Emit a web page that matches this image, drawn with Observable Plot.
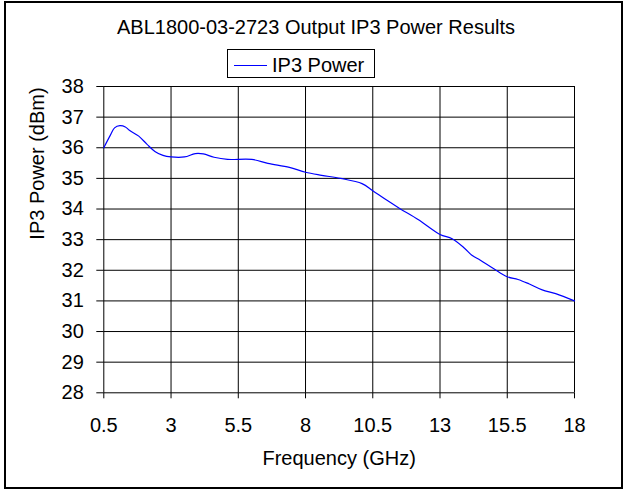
<!DOCTYPE html>
<html>
<head>
<meta charset="utf-8">
<script src="https://cdn.jsdelivr.net/npm/d3@7"></script>
<script src="https://cdn.jsdelivr.net/npm/@observablehq/plot@0.6"></script>
<style>
  body { margin: 0; background: #fff; }
  #wrap { position: relative; width: 624px; height: 489px; font-family: Arial, "Liberation Sans", sans-serif; color: #000; overflow: hidden; }
  #wrap svg { position: absolute; left: 0; top: 0; }
  #frame { position: absolute; left: 4px; top: 1px; width: 615px; height: 484px; border: 2px solid #000; pointer-events: none; }
  #title { position: absolute; left: 0; top: 17px; width: 632px; text-align: center; font-size: 20px; line-height: 20px; white-space: nowrap; }
  #legend { position: absolute; left: 227px; top: 49px; width: 148px; height: 29px; box-sizing: border-box; border: 1px solid #000; background: #fff; }
  #legend .swatch { position: absolute; left: 6px; top: 15px; width: 33px; height: 1px; background: #0000ff; }
  #legend .lab { position: absolute; left: 44px; top: 5px; font-size: 20px; line-height: 20px; white-space: nowrap; }
</style>
</head>
<body>
<div id="wrap"></div>
<script>
// ---- data ----
const titleText = "ABL1800-03-2723 Output IP3 Power Results";
const seriesName = "IP3 Power";
const xLabel = "Frequency (GHz)";
const yLabel = "IP3 Power (dBm)";

const freq = [0.5, 0.75, 0.9, 1.1, 1.3, 1.45, 1.8, 2.1, 2.4, 2.7, 3.0, 3.5, 3.9, 4.2, 4.6, 5.1, 6.0, 6.6, 7.4, 8.0, 8.6, 9.3, 10.1, 10.5, 11.0, 11.5, 12.2, 13.0, 13.45, 13.9, 14.2, 14.5, 15.0, 15.5, 15.9, 16.3, 16.8, 17.3, 18.0];
const ip3  = [36.0, 36.42, 36.65, 36.72, 36.68, 36.57, 36.38, 36.12, 35.88, 35.75, 35.70, 35.70, 35.81, 35.80, 35.69, 35.62, 35.62, 35.49, 35.36, 35.20, 35.10, 35.00, 34.83, 34.60, 34.30, 34.02, 33.65, 33.17, 33.03, 32.73, 32.48, 32.33, 32.05, 31.79, 31.70, 31.56, 31.36, 31.24, 31.00];

const xTicks = [0.5, 3, 5.5, 8, 10.5, 13, 15.5, 18];
const yTicks = [28, 29, 30, 31, 32, 33, 34, 35, 36, 37, 38];

const data = freq.map((f, i) => ({f, v: ip3[i]}));

const chart = Plot.plot({
  width: 624,
  height: 489,
  marginLeft: 103.3,
  marginRight: 50,
  marginTop: 86,
  marginBottom: 96.7,
  style: {fontFamily: "Arial, 'Liberation Sans', sans-serif", fontSize: "20px", background: "#fff", color: "#000", overflow: "visible"},
  x: {domain: [0.5, 18]},
  y: {domain: [28, 38]},
  marks: [
    Plot.gridX(xTicks, {stroke: "#000", strokeOpacity: 1, strokeWidth: 1}),
    Plot.gridY(yTicks, {stroke: "#000", strokeOpacity: 1, strokeWidth: 1}),
    Plot.axisX(xTicks, {tickSize: 6, tickPadding: 19, label: null, tickFormat: d => String(d), fontSize: 20}),
    Plot.axisY(yTicks, {tickSize: 7, tickPadding: 13, label: null, tickFormat: d => String(d), fontSize: 20}),
    Plot.line(data, {x: "f", y: "v", stroke: "#0000ff", strokeWidth: 1.2, curve: "catmull-rom"}),
    Plot.text([xLabel], {text: d => d, frameAnchor: "bottom", dy: 72, fontSize: 20}),
    Plot.text([yLabel], {text: d => d, frameAnchor: "left", rotate: -90, dx: -66.5, fontSize: 20})
  ]
});

const wrap = document.getElementById("wrap");
wrap.appendChild(chart);

const title = document.createElement("div");
title.id = "title";
title.textContent = titleText;
wrap.appendChild(title);

const legend = document.createElement("div");
legend.id = "legend";
const sw = document.createElement("div");
sw.className = "swatch";
const lab = document.createElement("div");
lab.className = "lab";
lab.textContent = seriesName;
legend.appendChild(sw);
legend.appendChild(lab);
wrap.appendChild(legend);

const frame = document.createElement("div");
frame.id = "frame";
wrap.appendChild(frame);
</script>
</body>
</html>
